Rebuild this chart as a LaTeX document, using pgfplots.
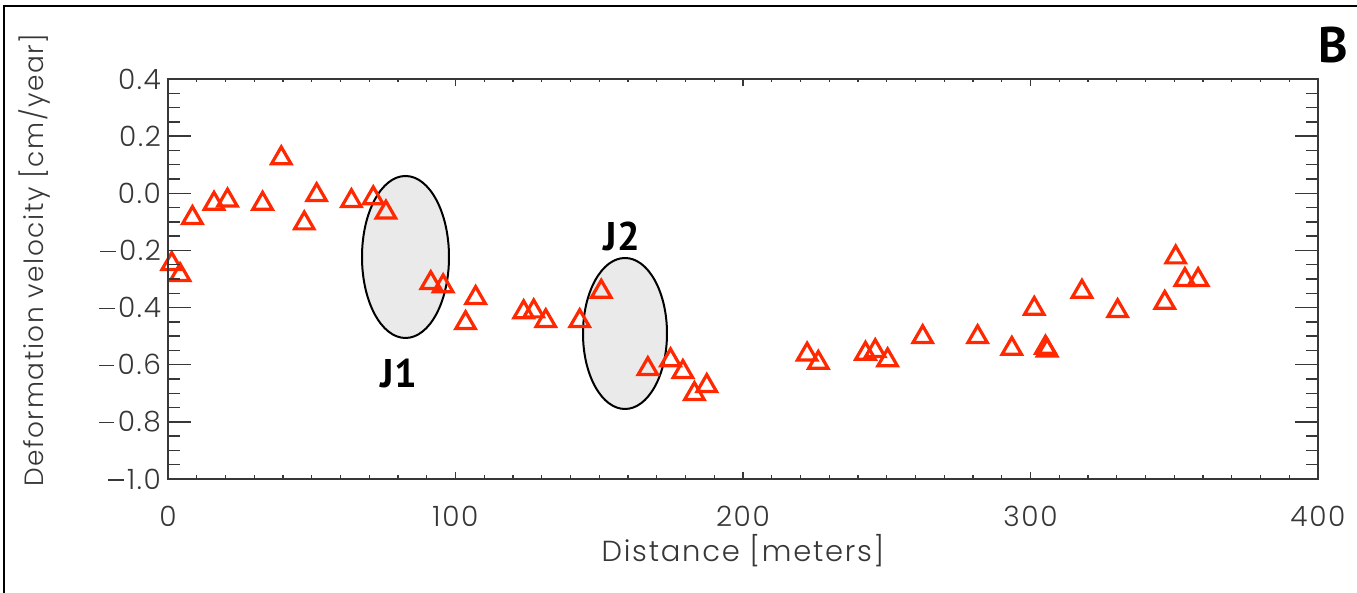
\documentclass[border=0pt]{standalone}
\usepackage{pgfplots}
\pgfplotsset{compat=1.18}
\usepackage{fontspec}
\setmainfont{Poppins Light}[LetterSpace=6]
\newfontfamily\tagfont{PT Sans}

\definecolor{markred}{RGB}{255,40,0}
\definecolor{ink}{RGB}{55,55,55}
\definecolor{blobgray}{RGB}{234,234,234}

% long, thin minus sign for the tick labels
\newcommand{\mns}{\raisebox{0.3em}{\rule{0.55em}{0.055em}}\hspace{0.12em}}

\pgfplotsset{
  plotbox/.style={
    scale only axis, width=575pt, height=200pt,
    xmin=0, xmax=400, ymin=-1, ymax=0.4,
    at={(0,0)}, anchor=south west,
    axis line style={line width=0.8pt, ink},
    tick style={line width=0.7pt, ink},
    tick align=inside,
    ticklabel style={font=\fontsize{14}{16}\selectfont, text=ink},
  },
}

\begin{document}
\begin{tikzpicture}
% page frame and the two joint zones (pixel-style coordinates, y downwards)
\begin{scope}[x=0.5pt, y=-0.5pt, shift={(-168,-479)}]
  \useasboundingbox (0,0) rectangle (1357,593);
  \draw[line width=1.3pt] (4,593) -- (4,6) -- (1357,6);
  \filldraw[fill=blobgray, draw=black, line width=1pt]
    (405.5,257) ellipse [x radius=43.5, y radius=81];
  \filldraw[fill=blobgray, draw=black, line width=1pt]
    (625,333.5) ellipse [x radius=42, y radius=75.5];
\end{scope}

% x axis ticks, x label and the measurements
\begin{axis}[plotbox,
  xtick={0,100,200,300,400},
  xticklabels={0,100,200,300,400},
  minor x tick num=9,
  ytick=\empty,
  major tick length=3.5pt, minor tick length=1.75pt,
  xticklabel style={yshift=-10pt},
  xlabel={Distance [meters]},
  xlabel style={at={(rel axis cs:0.5,-0.18)}, anchor=center,
    font=\fontsize{14.5}{16}\selectfont, text=ink},
]
\addplot[only marks, mark=triangle, mark size=5.6pt, color=markred,
  mark options={line width=1.6pt, solid}] table {
x y
1.3 -0.247
4.2 -0.286
8.5 -0.086
16.0 -0.036
20.7 -0.025
32.9 -0.036
39.4 0.123
47.4 -0.105
51.7 -0.006
63.8 -0.027
71.4 -0.017
75.8 -0.067
91.4 -0.314
95.7 -0.325
107.0 -0.366
103.5 -0.454
123.7 -0.416
127.2 -0.413
131.4 -0.447
143.2 -0.447
150.7 -0.344
166.9 -0.615
174.8 -0.584
179.1 -0.625
183.1 -0.702
187.4 -0.674
222.3 -0.564
226.2 -0.593
242.6 -0.561
246.0 -0.552
250.3 -0.584
262.5 -0.503
281.6 -0.503
293.5 -0.544
301.3 -0.404
305.2 -0.540
305.8 -0.550
317.9 -0.344
330.3 -0.412
346.7 -0.383
350.5 -0.224
353.7 -0.303
358.3 -0.303
};
\end{axis}

% y axis ticks and y label
\begin{axis}[plotbox,
  xtick=\empty,
  ytick={-1,-0.8,-0.6,-0.4,-0.2,0,0.2,0.4},
  yticklabels={\mns1.0,\mns0.8,\mns0.6,\mns0.4,\mns0.2,0.0,0.2,0.4},
  minor y tick num=3,
  major tick length=11.5pt, minor tick length=6pt,
  ylabel={Deformation velocity [cm/year]},
  ylabel style={at={(rel axis cs:-0.1157,0.547)}, anchor=center,
    font=\fontsize{13.2}{15}\selectfont, text=ink},
]
\end{axis}

% zone tags and panel letter
\begin{scope}[x=0.5pt, y=-0.5pt, shift={(-168,-479)}]
  \node[font=\tagfont\bfseries\fontsize{20}{22}\selectfont] at (399,374) {J1};
  \node[font=\tagfont\bfseries\fontsize{20}{22}\selectfont] at (622,236) {J2};
  \node[font=\tagfont\bfseries\fontsize{25}{28}\selectfont] at (1333,45) {B};
\end{scope}
\end{tikzpicture}
\end{document}
